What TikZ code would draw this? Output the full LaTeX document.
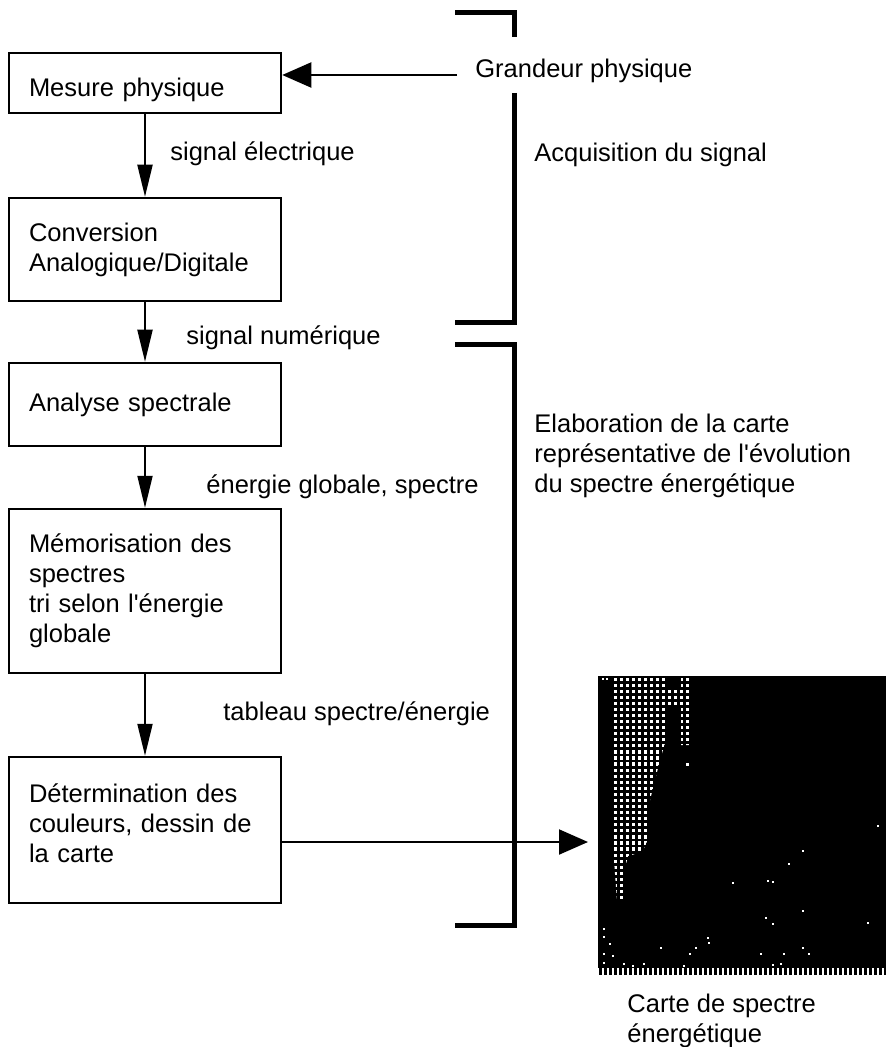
\documentclass[tikz,border=0pt]{standalone}
\usepackage{fontspec}
\setmainfont{Liberation Sans}
\usepackage{tikz}
\usetikzlibrary{arrows.meta}

\begin{document}
\begin{tikzpicture}[
  x=0.5pt, y=-0.5pt,
  font=\fontsize{12.75pt}{15pt}\selectfont,
  box/.style={rectangle,draw,line width=1.25pt,minimum width=136pt,text width=116pt,align=left,inner xsep=10pt,inner ysep=0pt},
  lbl/.style={anchor=base west,inner sep=0pt,align=left},
  varr/.style={-{Triangle[length=16pt,width=7.5pt]},line width=1pt},
  harr/.style={-{Triangle[length=14.5pt,width=12.5pt]},line width=1pt},
  brk/.style={line width=2.5pt,line join=miter},
]
\useasboundingbox (0,0) rectangle (886,1047);

% Left column: processing chain
\node[box,minimum height=30pt,text height=14pt,text depth=0pt] (mesure) at (145,83) {Mesure physique};
\node[box,minimum height=51.5pt] (conv)    at (145,249.5) {Conversion\\Analogique/Digitale};
\node[box,minimum height=41.5pt] (analyse) at (145,404.5) {Analyse spectrale};
\node[box,minimum height=82pt]   (memo)    at (145,591)   {Mémorisation des\\spectres\\tri selon l\textquotesingle énergie\\globale};
\node[box,minimum height=73pt,text depth=37pt] (determ) at (145,830) {Détermination des\\couleurs, dessin de\\la carte};

% Labels on the links
\node[lbl] (grand) at (475,78)  {Grandeur physique};
\node[lbl] (elec)  at (170,161) {signal électrique};
\node[lbl] (num)   at (186,345) {signal numérique};
\node[lbl] (energ) at (206,493) {énergie globale, spectre};
\node[lbl] (tab)   at (223,720) {tableau spectre/énergie};

% Stage labels right of the brackets (base = last line)
\node[lbl] (acq)  at (534,162) {Acquisition du signal};
\node[lbl] (elab) at (534,492) {Elaboration de la carte\\représentative de l\textquotesingle évolution\\du spectre énergétique};

% Links
\draw[varr] (mesure) -- (conv);
\draw[varr] (conv) -- (analyse);
\draw[varr] (analyse) -- (memo);
\draw[varr] (memo) -- (determ);
\coordinate (gsrc) at (457,75);
\draw[harr] (gsrc) -- (gsrc -| mesure.east);

% Brackets
\draw[brk] (455,13) -- (514,13) -- (514,37);
\draw[brk] (514,93) -- (514,323) -- (455,323);
\draw[brk] (455,345) -- (514,345) -- (514,925) -- (455,925);

% Map: black field, white dot grid, tick row
\fill (598,676) rectangle (886,968);
\begin{scope}
  \clip (611,676) -- (667,676) -- (667,688) -- (681,688) -- (681,676) -- (691,676) -- (691,745)
    -- (681,745) -- (681,707) -- (668,707) -- (666,740) -- (660,760) -- (655,780) -- (650,800)
    -- (648,840) -- (642,852) -- (628,856) -- (625,868) -- (623,901) -- (617,901) -- (614,860)
    -- (612,780) -- cycle;
  \foreach \i in {0,...,12}
    \foreach \j in {0,...,36}
      \fill[white] ({613.5+6*\i},{677.5+6.07*\j}) rectangle +(3.2,3.2);
\end{scope}
\fill[white] (686,763) rectangle +(3,3);
\foreach \x/\y in {602/678,606/678,877/825,802/850,788/863,732/882,767/880,772/881,802/910,
    765/917,772/923,867/922,603/928,603/936,609/943,660/947,707/937,689/953,695/947,
    760/953,783/953,802/947,808/953,603/953,612/955,603/962,623/963,632/965,643/963,
    683/965,772/964,780/963,708/942}
  \fill[white] (\x,\y) rectangle +(1.6,1.6);
\foreach \k in {0,...,57}
  \fill ({599+5*\k},968) rectangle +(2.5,7);
\coordinate (mapin) at (588,842);
\draw[harr] (mapin -| determ.east) -- (mapin);
\node[lbl] (carte) at (627,1042) {Carte de spectre\\énergétique};
\end{tikzpicture}
\end{document}
